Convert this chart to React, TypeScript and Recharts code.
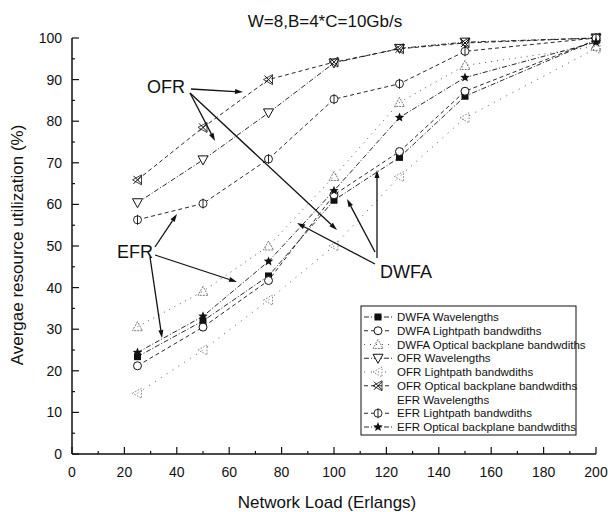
import React from 'react';
import { LineChart, Line, XAxis, YAxis } from 'recharts';

const loads = [25, 50, 75, 100, 125, 150, 200];

const dwfaWavelengths = [23.4, 32, 42.8, 61, 71.3, 86, 99.5];
const dwfaLightpath = [21.2, 30.5, 41.7, 62.3, 72.7, 87.2, 99.5];
const dwfaBackplane = [30.6, 39.1, 50, 66.7, 84.5, 93.4, 98];
const ofrWavelengths = [60.4, 70.7, 82, 94, 97.5, 99, 100];
const ofrLightpath = [14.6, 25, 37, 50, 66.7, 80.8, 97.5];
const ofrBackplane = [65.9, 78.5, 90, 94.2, 97.4, 98.8, 100];
const efrLightpath = [56.3, 60.2, 70.9, 85.3, 89, 96.8, 100];
const efrBackplane = [24.4, 33.1, 46.3, 63.3, 80.9, 90.5, 99];

const xTicks = [0, 10, 20, 30, 40, 50, 60, 70, 80, 90, 100, 110, 120, 130, 140, 150, 160, 170, 180, 190, 200];
const yTicks = [0, 5, 10, 15, 20, 25, 30, 35, 40, 45, 50, 55, 60, 65, 70, 75, 80, 85, 90, 95, 100];

const data = loads.map((load, i) => ({
    load,
    dwfaW: dwfaWavelengths[i],
    dwfaL: dwfaLightpath[i],
    dwfaB: dwfaBackplane[i],
    ofrW: ofrWavelengths[i],
    ofrL: ofrLightpath[i],
    ofrB: ofrBackplane[i],
    efrL: efrLightpath[i],
    efrB: efrBackplane[i],
}));

const FONT = '"Liberation Sans", Arial, Helvetica, sans-serif';
const INK = '#111';

type MarkerKind = 'square' | 'circle' | 'triUp' | 'triDown' | 'triLeft' | 'xTri' | 'phi' | 'star' | 'none';

const Marker = ({ cx, cy, kind }: { cx: number; cy: number; kind: MarkerKind }) => {
    if (cx == null || cy == null) return null;
    switch (kind) {
        case 'square':
            return <rect x={cx - 3.5} y={cy - 3.5} width={7} height={7} fill={INK} />;
        case 'circle':
            return <circle cx={cx} cy={cy} r={4} fill="#fff" stroke={INK} strokeWidth={1} />;
        case 'triUp':
            return <polygon points={`${cx},${cy - 5} ${cx - 5},${cy + 4} ${cx + 5},${cy + 4}`} fill="none" stroke="#555" strokeWidth={0.8} strokeDasharray="2 1" />;
        case 'triDown':
            return <polygon points={`${cx},${cy + 5} ${cx - 5},${cy - 4} ${cx + 5},${cy - 4}`} fill="#fff" stroke={INK} strokeWidth={1} />;
        case 'triLeft':
            return <polygon points={`${cx - 5},${cy} ${cx + 4},${cy - 5} ${cx + 4},${cy + 5}`} fill="none" stroke="#666" strokeWidth={0.8} strokeDasharray="1.5 1.5" />;
        case 'xTri':
            return (
                <g stroke={INK} strokeWidth={1} fill="none">
                    <line x1={cx - 4} y1={cy - 4} x2={cx + 4} y2={cy + 4} />
                    <line x1={cx - 4} y1={cy + 4} x2={cx + 4} y2={cy - 4} />
                    <polygon points={`${cx - 5},${cy} ${cx + 4},${cy - 5} ${cx + 4},${cy + 5}`} strokeWidth={0.8} />
                </g>
            );
        case 'phi':
            return (
                <g stroke={INK} strokeWidth={0.9} fill="#fff">
                    <circle cx={cx} cy={cy} r={4} />
                    <line x1={cx} y1={cy - 5} x2={cx} y2={cy + 5} />
                </g>
            );
        case 'star': {
            const pts: string[] = [];
            for (let k = 0; k < 10; k++) {
                const r = k % 2 === 0 ? 5 : 2.2;
                const a = -Math.PI / 2 + (k * Math.PI) / 5;
                pts.push(`${cx + r * Math.cos(a)},${cy + r * Math.sin(a)}`);
            }
            return <polygon points={pts.join(' ')} fill={INK} />;
        }
        default:
            return null;
    }
};

interface SeriesDef {
    key: string | null;
    name: string;
    marker: MarkerKind;
    dash: string;
    stroke: string;
}

const SERIES: SeriesDef[] = [
    { key: 'dwfaW', name: 'DWFA Wavelengths', marker: 'square', dash: '5 2 1 2', stroke: INK },
    { key: 'dwfaL', name: 'DWFA Lightpath bandwdiths', marker: 'circle', dash: '4 3', stroke: INK },
    { key: 'dwfaB', name: 'DWFA Optical backplane bandwdiths', marker: 'triUp', dash: '1 5', stroke: '#444' },
    { key: 'ofrW', name: 'OFR Wavelengths', marker: 'triDown', dash: '5 2 1 2', stroke: INK },
    { key: 'ofrL', name: 'OFR Lightpath bandwdiths', marker: 'triLeft', dash: '1 6', stroke: '#444' },
    { key: 'ofrB', name: 'OFR Optical backplane bandwdiths', marker: 'xTri', dash: '4 3', stroke: INK },
    { key: null, name: 'EFR Wavelengths', marker: 'none', dash: '', stroke: INK },
    { key: 'efrL', name: 'EFR Lightpath bandwdiths', marker: 'phi', dash: '4 3', stroke: INK },
    { key: 'efrB', name: 'EFR Optical backplane bandwdiths', marker: 'star', dash: '5 2 1 2', stroke: INK },
];

const BottomTick = (props: any) => {
    const { x, y, payload } = props;
    const major = payload.value % 20 === 0;
    return (
        <g>
            <line x1={x} y1={y} x2={x} y2={y - (major ? 7 : 3)} stroke={INK} strokeWidth={1.2} />
            {major && (
                <text x={x} y={y + 23} textAnchor="middle" fontSize={14} fontFamily={FONT} fill={INK}>
                    {payload.value}
                </text>
            )}
        </g>
    );
};

const TopTick = (props: any) => {
    const { x, y, payload } = props;
    const major = payload.value % 20 === 0;
    return <line x1={x} y1={y} x2={x} y2={y + (major ? 7 : 3)} stroke={INK} strokeWidth={1.2} />;
};

const LeftTick = (props: any) => {
    const { x, y, payload } = props;
    const major = payload.value % 10 === 0;
    return (
        <g>
            <line x1={x} y1={y} x2={x + (major ? 7 : 3)} y2={y} stroke={INK} strokeWidth={1.2} />
            {major && (
                <text x={x - 10} y={y + 5} textAnchor="end" fontSize={14} fontFamily={FONT} fill={INK}>
                    {payload.value}
                </text>
            )}
        </g>
    );
};

const RightTick = (props: any) => {
    const { x, y, payload } = props;
    const major = payload.value % 10 === 0;
    return <line x1={x} y1={y} x2={x - (major ? 7 : 3)} y2={y} stroke={INK} strokeWidth={1.2} />;
};

// annotation arrows: [fromX, fromY, tipX, tipY]
const ARROWS: [number, number, number, number][] = [
    [191, 89, 243, 92],
    [190, 93, 215, 141],
    [190, 93, 337, 230],
    [155, 247, 177, 214],
    [155, 255, 237, 282],
    [150, 257, 162, 338],
    [375, 264, 297, 223],
    [375, 252, 347, 199],
    [377, 258, 377, 170],
];

const Arrow = ({ a }: { a: [number, number, number, number] }) => {
    const [x1, y1, x2, y2] = a;
    const ang = Math.atan2(y2 - y1, x2 - x1);
    const L = 8;
    const W = 2.5;
    const bx = x2 - L * Math.cos(ang);
    const by = y2 - L * Math.sin(ang);
    const px = -Math.sin(ang) * W;
    const py = Math.cos(ang) * W;
    return (
        <g>
            <line x1={x1} y1={y1} x2={bx} y2={by} stroke={INK} strokeWidth={1.3} />
            <polygon points={`${x2},${y2} ${bx + px},${by + py} ${bx - px},${by - py}`} fill={INK} />
        </g>
    );
};

const LEGEND_X = 361;
const LEGEND_Y = 306;

const Overlay = () => (
    <svg width={608} height={512} style={{ position: 'absolute', left: 0, top: 0, pointerEvents: 'none' }}>
        <text x={325} y={27} textAnchor="middle" fontSize={17} fontFamily={FONT} fill={INK}>W=8,B=4*C=10Gb/s</text>
        <text x={327} y={508} textAnchor="middle" fontSize={17} fontFamily={FONT} fill={INK}>Network Load (Erlangs)</text>
        <text x={23} y={245} textAnchor="middle" fontSize={17} fontFamily={FONT} fill={INK} transform="rotate(-90 23 245)">
            Avergae resource utilization (%)
        </text>
        <text x={147} y={93} fontSize={18} fontFamily={FONT} fill={INK}>OFR</text>
        <text x={117} y={258} fontSize={18} fontFamily={FONT} fill={INK}>EFR</text>
        <text x={380} y={278} fontSize={18} fontFamily={FONT} fill={INK}>DWFA</text>
        {ARROWS.map((a, i) => <Arrow key={i} a={a} />)}
        <rect x={LEGEND_X} y={LEGEND_Y} width={215} height={129} fill="#fff" stroke={INK} strokeWidth={1} />
        {SERIES.map((s, i) => {
            const cy = LEGEND_Y + 11 + i * 13.75;
            return (
                <g key={s.name}>
                    {s.key && <line x1={LEGEND_X + 3} y1={cy} x2={LEGEND_X + 31} y2={cy} stroke={s.stroke} strokeWidth={0.9} strokeDasharray={s.dash} />}
                    {s.key && <Marker cx={LEGEND_X + 17} cy={cy} kind={s.marker} />}
                    <text x={LEGEND_X + 36} y={cy + 4} fontSize={11.5} fontFamily={FONT} fill={INK}>{s.name}</text>
                </g>
            );
        })}
    </svg>
);

const App: React.FC = () => (
    <div style={{ position: 'absolute', left: 0, top: 0, width: 608, height: 512, background: '#fff' }}>
        <LineChart width={608} height={512} data={data} margin={{ top: 38, right: 12, bottom: 0, left: 0 }}>
            <XAxis
                xAxisId="b"
                dataKey="load"
                type="number"
                domain={[0, 200]}
                ticks={xTicks}
                interval={0}
                height={58}
                tickSize={0}
                tickMargin={0}
                tickLine={false}
                tick={<BottomTick />}
                axisLine={{ stroke: INK, strokeWidth: 1.5 }}
            />
            <XAxis
                xAxisId="t"
                orientation="top"
                dataKey="load"
                type="number"
                domain={[0, 200]}
                ticks={xTicks}
                interval={0}
                height={0}
                tickSize={0}
                tickMargin={0}
                tickLine={false}
                tick={<TopTick />}
                axisLine={{ stroke: INK, strokeWidth: 1.5 }}
            />
            <YAxis
                yAxisId="l"
                type="number"
                domain={[0, 100]}
                ticks={yTicks}
                interval={0}
                width={72}
                tickSize={0}
                tickMargin={0}
                tickLine={false}
                tick={<LeftTick />}
                axisLine={{ stroke: INK, strokeWidth: 1.5 }}
            />
            <YAxis
                yAxisId="r"
                orientation="right"
                type="number"
                domain={[0, 100]}
                ticks={yTicks}
                interval={0}
                width={0}
                tickSize={0}
                tickMargin={0}
                tickLine={false}
                tick={<RightTick />}
                axisLine={{ stroke: INK, strokeWidth: 1.5 }}
            />
            {SERIES.filter((s) => s.key).map((s) => (
                <Line
                    key={s.key as string}
                    xAxisId="b"
                    yAxisId="l"
                    dataKey={s.key as string}
                    name={s.name}
                    stroke={s.stroke}
                    strokeWidth={0.9}
                    strokeDasharray={s.dash}
                    isAnimationActive={false}
                    dot={(p: any) => <Marker key={`${s.key}-${p.index}`} cx={p.cx} cy={p.cy} kind={s.marker} />}
                    activeDot={false}
                />
            ))}
        </LineChart>
        <Overlay />
    </div>
);

export default App;
